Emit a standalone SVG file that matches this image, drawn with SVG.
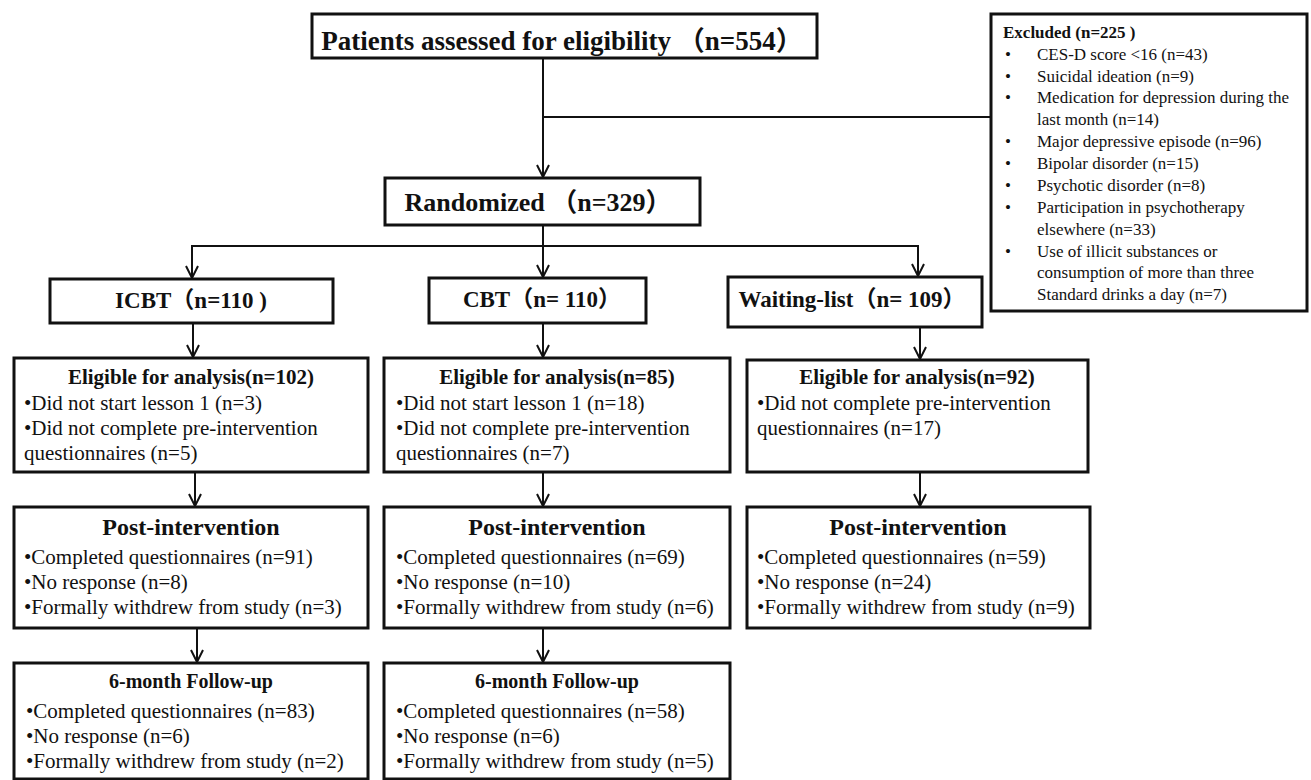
<svg xmlns="http://www.w3.org/2000/svg" width="1311" height="780" viewBox="0 0 1311 780">
<defs>
<style>
.box{fill:#fff;stroke:#111;stroke-width:3}
.ln{fill:none;stroke:#111;stroke-width:2}
text{font-family:"Liberation Serif","Times New Roman","Noto Sans CJK SC",serif;fill:#111}
.b{font-weight:bold}
.t1{font-size:27px}
.t2{font-size:26px}
.t3{font-size:23px}
.t4{font-size:21px}
.t5{font-size:24px}
.t6{font-size:20px}
.body{font-size:21px}
.ex{font-size:17px}
.c{text-anchor:middle}
</style>
<marker id="arr" viewBox="-14 -8 16 16" refX="0" refY="0" markerWidth="16" markerHeight="16" markerUnits="userSpaceOnUse" orient="auto">
<path d="M-12,-6 L0,0 L-12,6" fill="none" stroke="#111" stroke-width="2"/>
</marker>
</defs>
<rect width="1311" height="780" fill="#fff"/>

<g id="connectors">
<line class="ln" x1="543" y1="58" x2="543" y2="177" marker-end="url(#arr)"/>
<line class="ln" x1="543" y1="117" x2="991" y2="117"/>
<line class="ln" x1="543" y1="225" x2="543" y2="277" marker-end="url(#arr)"/>
<polyline class="ln" points="192,278 192,246 918,246 918,276" marker-end="url(#arr)"/>
<line class="ln" x1="192" y1="246" x2="192" y2="278" marker-end="url(#arr)"/>
<line class="ln" x1="193" y1="323" x2="193" y2="357" marker-end="url(#arr)"/>
<line class="ln" x1="195" y1="472" x2="195" y2="506" marker-end="url(#arr)"/>
<line class="ln" x1="197" y1="628" x2="197" y2="662" marker-end="url(#arr)"/>
<line class="ln" x1="543" y1="323" x2="543" y2="357" marker-end="url(#arr)"/>
<line class="ln" x1="543" y1="472" x2="543" y2="506" marker-end="url(#arr)"/>
<line class="ln" x1="543" y1="628" x2="543" y2="662" marker-end="url(#arr)"/>
<line class="ln" x1="920" y1="327" x2="920" y2="359" marker-end="url(#arr)"/>
<line class="ln" x1="920" y1="472" x2="920" y2="506" marker-end="url(#arr)"/>
</g>

<g id="assessed">
<rect class="box" x="312" y="14" width="505" height="44"/>
<text class="b t1 c" x="562" y="50">Patients assessed for eligibility （n=554）</text>
</g>

<g id="excluded">
<rect class="box" x="991" y="14" width="316" height="297"/>
<text class="b ex" x="1003" y="38">Excluded (n=225 )</text>
<g class="ex">
<text class="ex" x="1005" y="60">•</text><text class="ex" x="1037" y="60">CES-D score &lt;16 (n=43)</text>
<text class="ex" x="1005" y="82">•</text><text class="ex" x="1037" y="82">Suicidal ideation (n=9)</text>
<text class="ex" x="1005" y="103">•</text><text class="ex" x="1037" y="103">Medication for depression during the</text>
<text class="ex" x="1037" y="125">last month (n=14)</text>
<text class="ex" x="1005" y="147">•</text><text class="ex" x="1037" y="147">Major depressive episode (n=96)</text>
<text class="ex" x="1005" y="169">•</text><text class="ex" x="1037" y="169">Bipolar disorder (n=15)</text>
<text class="ex" x="1005" y="191">•</text><text class="ex" x="1037" y="191">Psychotic disorder (n=8)</text>
<text class="ex" x="1005" y="213">•</text><text class="ex" x="1037" y="213">Participation in psychotherapy</text>
<text class="ex" x="1037" y="235">elsewhere (n=33)</text>
<text class="ex" x="1005" y="257">•</text><text class="ex" x="1037" y="257">Use of illicit substances or</text>
<text class="ex" x="1037" y="278">consumption of more than three</text>
<text class="ex" x="1037" y="300">Standard drinks a day (n=7)</text>
</g>
</g>

<g id="randomized">
<rect class="box" x="385" y="178" width="315" height="47"/>
<text class="b t2 c" x="538" y="211">Randomized （n=329）</text>
</g>

<g id="icbt">
<rect class="box" x="50" y="279" width="283" height="44"/>
<text class="b t3 c" x="191" y="308">ICBT（n=110 )</text>
</g>
<g id="cbt">
<rect class="box" x="429" y="278" width="217" height="45"/>
<text class="b t3 c" x="542" y="307">CBT（n= 110）</text>
</g>
<g id="waiting">
<rect class="box" x="728" y="277" width="254" height="50"/>
<text class="b t3 c" x="852" y="307">Waiting-list（n= 109）</text>
</g>

<g id="icbt-eligible">
<rect class="box" x="14" y="358" width="354" height="114"/>
<text class="b t4 c" x="191" y="384">Eligible for analysis(n=102)</text>
<text class="body" x="24" y="410">•Did not start lesson 1 (n=3)</text>
<text class="body" x="24" y="435">•Did not complete pre-intervention</text>
<text class="body" x="24" y="460">questionnaires (n=5)</text>
</g>
<g id="cbt-eligible">
<rect class="box" x="384" y="358" width="346" height="114"/>
<text class="b t4 c" x="557" y="384">Eligible for analysis(n=85)</text>
<text class="body" x="396" y="410">•Did not start lesson 1 (n=18)</text>
<text class="body" x="396" y="435">•Did not complete pre-intervention</text>
<text class="body" x="396" y="460">questionnaires (n=7)</text>
</g>
<g id="wl-eligible">
<rect class="box" x="747" y="360" width="341" height="112"/>
<text class="b t4 c" x="917" y="384">Eligible for analysis(n=92)</text>
<text class="body" x="757" y="410">•Did not complete pre-intervention</text>
<text class="body" x="757" y="435">questionnaires (n=17)</text>
</g>

<g id="icbt-post">
<rect class="box" x="14" y="507" width="354" height="121"/>
<text class="b t5 c" x="191" y="535">Post-intervention</text>
<text class="body" x="24" y="564">•Completed questionnaires (n=91)</text>
<text class="body" x="24" y="589">•No response (n=8)</text>
<text class="body" x="24" y="614">•Formally withdrew from study (n=3)</text>
</g>
<g id="cbt-post">
<rect class="box" x="384" y="507" width="346" height="121"/>
<text class="b t5 c" x="557" y="535">Post-intervention</text>
<text class="body" x="396" y="564">•Completed questionnaires (n=69)</text>
<text class="body" x="396" y="589">•No response (n=10)</text>
<text class="body" x="396" y="614">•Formally withdrew from study (n=6)</text>
</g>
<g id="wl-post">
<rect class="box" x="747" y="507" width="343" height="121"/>
<text class="b t5 c" x="918" y="535">Post-intervention</text>
<text class="body" x="757" y="564">•Completed questionnaires (n=59)</text>
<text class="body" x="757" y="589">•No response (n=24)</text>
<text class="body" x="757" y="614">•Formally withdrew from study (n=9)</text>
</g>

<g id="icbt-followup">
<rect class="box" x="14" y="663" width="354" height="116"/>
<text class="b t6 c" x="191" y="688">6-month Follow-up</text>
<text class="body" x="26" y="718">•Completed questionnaires (n=83)</text>
<text class="body" x="26" y="743">•No response (n=6)</text>
<text class="body" x="26" y="768">•Formally withdrew from study (n=2)</text>
</g>
<g id="cbt-followup">
<rect class="box" x="384" y="663" width="346" height="116"/>
<text class="b t6 c" x="557" y="688">6-month Follow-up</text>
<text class="body" x="396" y="718">•Completed questionnaires (n=58)</text>
<text class="body" x="396" y="743">•No response (n=6)</text>
<text class="body" x="396" y="768">•Formally withdrew from study (n=5)</text>
</g>
</svg>
